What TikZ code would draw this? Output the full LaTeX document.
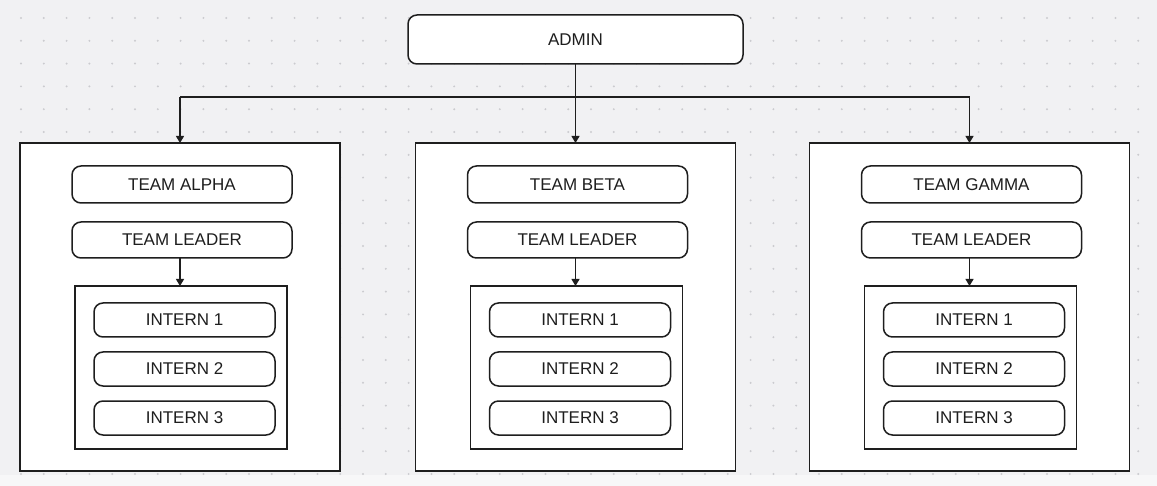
\documentclass[tikz,border=0pt]{standalone}
\usepackage{fontspec}
\setmainfont{Liberation Sans}
\usetikzlibrary{arrows.meta}
\usepackage{xcolor}
\definecolor{canvas}{HTML}{F1F1F3}
\definecolor{griddot}{HTML}{CBCBCF}
\definecolor{ink}{HTML}{1E1E1E}
\tikzset{
    pill/.style={
        draw=ink,
        fill=white,
        line width=1.5pt,
        rounded corners=9pt,
        inner sep=0pt,
        outer sep=0pt,
        text=ink,
        font=\fontsize{17}{20}\selectfont
    },
    frame/.style={
        draw=ink,
        fill=white,
        line width=1.5pt,
        inner sep=0pt,
        outer sep=0pt
    },
    link/.style={draw=ink, line width=1.1pt},
    arrow/.style={link, -{Triangle[length=7pt,width=8pt]}}
}

\begin{document}
\begin{tikzpicture}[x=1pt, y=-1pt]
        \useasboundingbox (0,0) rectangle (1157,486);
        % canvas and dotted grid
        \fill[canvas] (0,0) rectangle (1157,486);
        \fill[canvas!55!white] (0,475) rectangle (1157,486);
        \foreach \i in {0,...,49}
            \foreach \j in {0,...,20}
                \fill[griddot] (21+22.8*\i, 18+22.8*\j) circle (1.1pt);
        % admin on top
        \node[pill, minimum width=335pt, minimum height=49pt] (admin) at (575.5,39.5) {ADMIN};
        % one panel per team
        \foreach \n/\x/\name in {A/180/ALPHA, B/575.5/BETA, C/969.5/GAMMA} {
            \node[frame, minimum width=320pt, minimum height=328pt] (panel\n) at (\x,307) {};
            \node[pill, minimum width=220pt, minimum height=37pt] (team\n) at (\x+2,184.5) {TEAM \name};
            \node[pill, minimum width=220pt, minimum height=36pt] (lead\n) at (\x+2,240) {TEAM LEADER};
            \node[frame, minimum width=212pt, minimum height=163pt] (group\n) at (\x+1,367.5) {};
            \foreach \k/\y in {1/320,2/369,3/418}
                \node[pill, minimum width=181pt, minimum height=34pt] (intern\n\k) at (\x+4.5,\y) {INTERN \k};
            \draw[arrow] (lead\n.south -| panel\n.north) -- (group\n.north -| panel\n.north);
        }
        % draw bus from admin to teams
        \coordinate (busA) at (panelA.north |- 0,97);
        \coordinate (busC) at (panelC.north |- 0,97);
        \draw[link] (busA) -- (busC);
        \draw[arrow] (busA) -- (panelA.north);
        \draw[arrow] (admin.south) -- (panelB.north);
        \draw[arrow] (busC) -- (panelC.north);
\end{tikzpicture}
\end{document}
